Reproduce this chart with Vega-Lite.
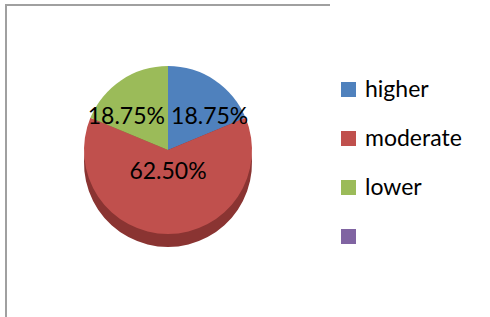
{
  "$schema": "https://vega.github.io/schema/vega-lite/v6.json",
  "autosize": {"type": "none"},
  "padding": {"left": 6, "top": 5, "right": 160, "bottom": 0},
  "width": 324,
  "height": 312,
  "background": "white",
  "view": {"stroke": "#a0a0a0", "strokeWidth": 2, "strokeDash": [324, 636]},
  "config": {
    "font": "Lato"
  },
  "data": {
    "values": [
      {"category": "higher", "share": 0.1875, "rank": 1},
      {"category": "moderate", "share": 0.625, "rank": 2},
      {"category": "lower", "share": 0.1875, "rank": 3}
    ]
  },
  "encoding": {
    "theta": {"field": "share", "type": "quantitative", "stack": true},
    "order": {"field": "rank", "type": "ordinal"}
  },
  "layer": [
    {
      "mark": {"type": "arc", "outerRadius": 84, "yOffset": 2, "color": "#8a3432"}
    },
    {
      "mark": {"type": "arc", "outerRadius": 84, "yOffset": -11},
      "encoding": {
        "color": {
          "field": "category",
          "type": "nominal",
          "scale": {
            "domain": ["higher", "moderate", "lower", " "],
            "range": ["#4F81BD", "#C0504D", "#9BBB59", "#8064A2"]
          },
          "legend": {
            "title": null,
            "orient": "none",
            "legendX": 331,
            "legendY": 73,
            "padding": 0,
            "symbolType": "square",
            "symbolSize": 225,
            "symbolStrokeWidth": 0,
            "labelFont": "Lato",
            "labelFontSize": 23,
            "labelColor": "#000000",
            "labelOffset": 5,
            "rowPadding": 25,
            "labelLimit": 200
          }
        }
      }
    },
    {
      "mark": {
        "type": "text",
        "radius": 30,
        "fontSize": 23,
        "font": "Lato",
        "color": "#000000",
        "dy": -19,
        "dx": {"expr": "datum.category === 'higher' ? 25 : datum.category === 'lower' ? -25 : 0"}
      },
      "encoding": {
        "text": {"field": "share", "type": "quantitative", "format": ".2%"}
      }
    }
  ]
}
